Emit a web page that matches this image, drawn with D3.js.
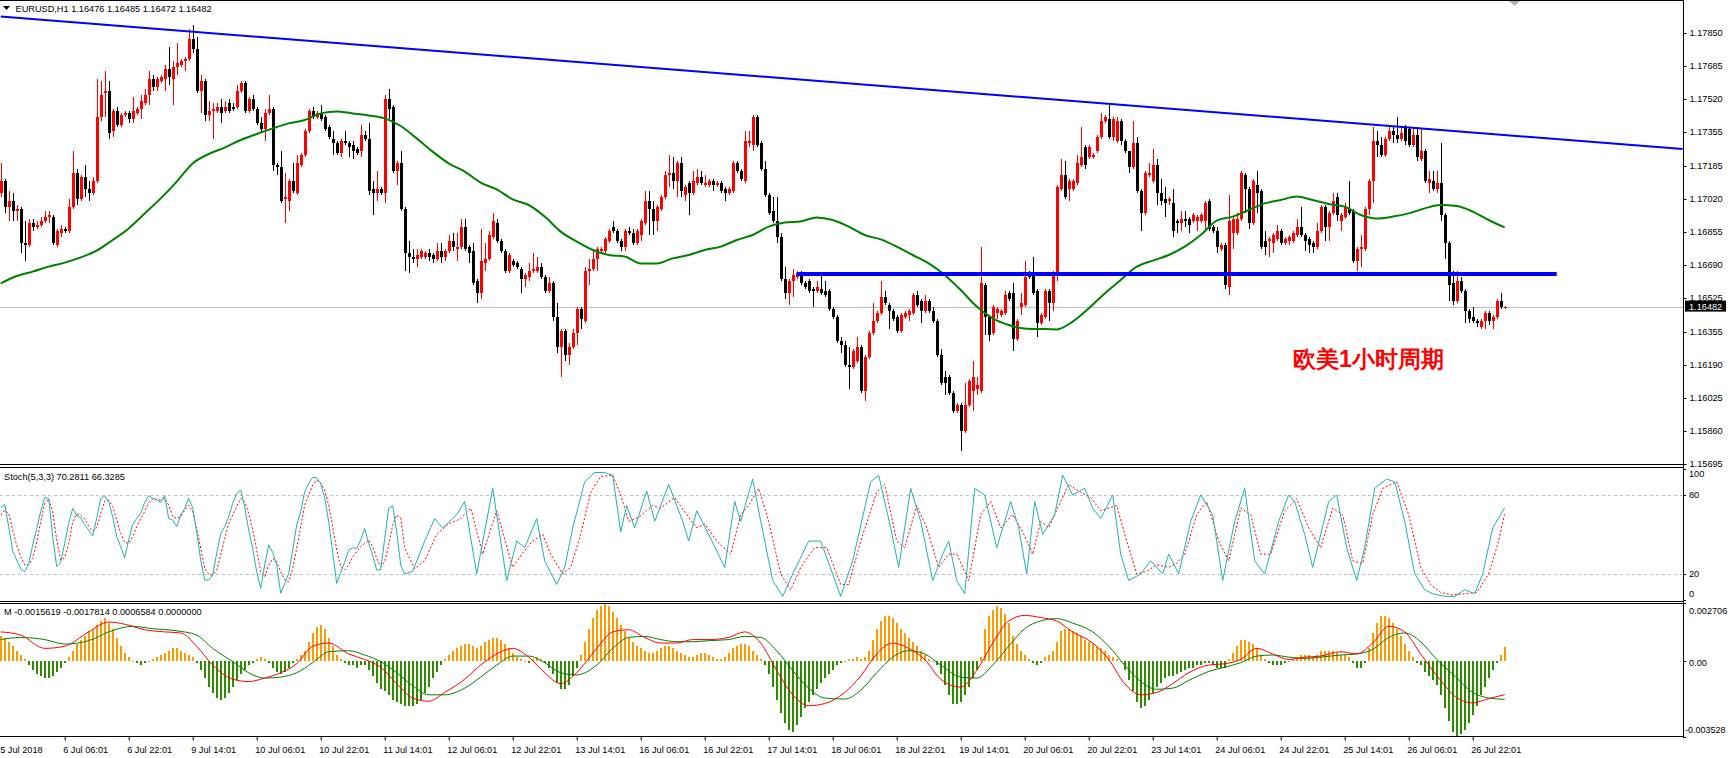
<!DOCTYPE html>
<html><head><meta charset="utf-8">
<script src="https://cdn.jsdelivr.net/npm/d3@7"></script>
<style>
html,body{margin:0;padding:0;background:#fff;overflow:hidden;}
svg{display:block;}
text{font-family:"Liberation Sans",Arial,sans-serif;}
</style></head><body>
<svg id="chart" width="1728" height="758"></svg>
<script>
const headerText = "EURUSD,H1  1.16476 1.16485 1.16472 1.16482";
const stochTitle = "Stoch(5,3,3) 70.2811 66.3285";
const macdTitle = "M -0.0015619 -0.0017814 0.0006584 0.0000000";
const noteText = "欧美1小时周期";

const opens = [
1.1705,1.1711,1.1698,1.1701,1.1696,1.1697,1.1680,1.1679,1.1690,1.1688,
1.1689,1.1691,1.1693,1.1693,1.1679,1.1685,1.1687,1.1686,1.1698,1.1715,
1.1702,1.1713,1.1707,1.1705,1.1711,1.1743,1.1755,1.1756,1.1736,1.1746,
1.1739,1.1744,1.1745,1.1742,1.1745,1.1747,1.1750,1.1754,1.1762,1.1758,
1.1761,1.1762,1.1767,1.1762,1.1768,1.1769,1.1771,1.1772,1.1782,1.1777,
1.1756,1.1761,1.1744,1.1746,1.1746,1.1748,1.1746,1.1750,1.1748,1.1748,
1.1756,1.1760,1.1746,1.1752,1.1747,1.1740,1.1737,1.1745,1.1747,1.1719,
1.1718,1.1702,1.1701,1.1711,1.1705,1.1719,1.1724,1.1736,1.1746,1.1743,
1.1745,1.1743,1.1738,1.1732,1.1730,1.1725,1.1731,1.1730,1.1729,1.1727,
1.1726,1.1734,1.1732,1.1707,1.1705,1.1707,1.1705,1.1752,1.1748,1.1716,
1.1720,1.1697,1.1675,1.1673,1.1672,1.1673,1.1673,1.1675,1.1674,1.1672,
1.1676,1.1673,1.1676,1.1681,1.1677,1.1678,1.1688,1.1678,1.1676,1.1661,
1.1655,1.1670,1.1672,1.1683,1.1690,1.1681,1.1676,1.1666,1.1671,1.1670,
1.1667,1.1662,1.1663,1.1666,1.1666,1.1668,1.1663,1.1656,1.1660,1.1643,
1.1628,1.1636,1.1624,1.1628,1.1635,1.1647,1.1641,1.1666,1.1667,1.1672,
1.1676,1.1676,1.1681,1.1688,1.1686,1.1681,1.1678,1.1686,1.1685,1.1680,
1.1684,1.1690,1.1701,1.1697,1.1691,1.1697,1.1703,1.1714,1.1715,1.1711,
1.1720,1.1704,1.1710,1.1705,1.1710,1.1713,1.1709,1.1709,1.1711,1.1709,
1.1710,1.1707,1.1705,1.1706,1.1720,1.1716,1.1711,1.1730,1.1729,1.1743,
1.1730,1.1717,1.1704,1.1696,1.1691,1.1683,1.1662,1.1655,1.1661,1.1663,
1.1665,1.1660,1.1661,1.1657,1.1656,1.1657,1.1656,1.1656,1.1647,1.1643,
1.1631,1.1629,1.1619,1.1618,1.1621,1.1628,1.1606,1.1623,1.1635,1.1641,
1.1645,1.1653,1.1649,1.1646,1.1643,1.1636,1.1643,1.1644,1.1645,1.1654,
1.1651,1.1646,1.1651,1.1646,1.1641,1.1624,1.1613,1.1613,1.1605,1.1596,
1.1599,1.1586,1.1599,1.1606,1.1607,1.1606,1.1659,1.1643,1.1635,1.1645,
1.1644,1.1645,1.1655,1.1655,1.1632,1.1648,1.1649,1.1665,1.1665,1.1656,
1.1640,1.1643,1.1656,1.1650,1.1665,1.1707,1.1714,1.1707,1.1707,1.1710,
1.1719,1.1728,1.1723,1.1723,1.1726,1.1733,1.1741,1.1742,1.1733,1.1731,
1.1741,1.1731,1.1726,1.1718,1.1730,1.1706,1.1695,1.1714,1.1711,1.1719,
1.1705,1.1702,1.1701,1.1700,1.1691,1.1690,1.1692,1.1692,1.1691,1.1691,
1.1691,1.1691,1.1701,1.1688,1.1686,1.1677,1.1679,1.1658,1.1685,1.1685,
1.1692,1.1714,1.1707,1.1690,1.1709,1.1706,1.1681,1.1681,1.1680,1.1682,
1.1686,1.1680,1.1681,1.1681,1.1684,1.1688,1.1684,1.1682,1.1680,1.1678,
1.1686,1.1698,1.1688,1.1695,1.1703,1.1691,1.1693,1.1697,1.1696,1.1671,
1.1677,1.1677,1.1697,1.1711,1.1731,1.1729,1.1724,1.1732,1.1736,1.1734,
1.1732,1.1738,1.1737,1.1729,1.1734,1.1722,1.1726,1.1710,1.1711,1.1707,
1.1710,1.1694,1.1680,1.1660,1.1651,1.1661,1.1656,1.1646,1.1643,1.1641,
1.1638,1.1641,1.1645,1.1641,1.1643,1.1651,1.16476];
const highs = [
1.1720,1.1712,1.1706,1.1705,1.1699,1.1698,1.1691,1.1692,1.1692,1.1691,
1.1693,1.1696,1.1696,1.1694,1.1687,1.1689,1.1688,1.1702,1.1726,1.1717,
1.1714,1.1719,1.1711,1.1713,1.1762,1.1761,1.1766,1.1761,1.1747,1.1748,
1.1745,1.1746,1.1746,1.1753,1.1748,1.1754,1.1757,1.1766,1.1764,1.1763,
1.1764,1.1769,1.1778,1.1771,1.1780,1.1772,1.1773,1.1787,1.1789,1.1783,
1.1764,1.1762,1.1751,1.1750,1.1750,1.1752,1.1751,1.1752,1.1750,1.1759,
1.1761,1.1761,1.1753,1.1754,1.1748,1.1743,1.1747,1.1754,1.1748,1.1720,
1.1726,1.1715,1.1712,1.1720,1.1724,1.1725,1.1737,1.1747,1.1748,1.1746,
1.1749,1.1744,1.1739,1.1736,1.1731,1.1732,1.1736,1.1731,1.1731,1.1728,
1.1739,1.1736,1.1740,1.1711,1.1716,1.1708,1.1754,1.1757,1.1749,1.1721,
1.1726,1.1698,1.1681,1.1677,1.1677,1.1677,1.1676,1.1677,1.1675,1.1680,
1.1680,1.1677,1.1684,1.1685,1.1685,1.1692,1.1692,1.1679,1.1680,1.1662,
1.1687,1.1680,1.1686,1.1695,1.1692,1.1682,1.1677,1.1675,1.1672,1.1671,
1.1668,1.1665,1.1670,1.1675,1.1673,1.1670,1.1664,1.1663,1.1661,1.1650,
1.1637,1.1637,1.1630,1.1637,1.1648,1.1648,1.1668,1.1672,1.1677,1.1678,
1.1678,1.1683,1.1687,1.1691,1.1687,1.1682,1.1687,1.1688,1.1687,1.1687,
1.1692,1.1706,1.1706,1.1701,1.1699,1.1704,1.1716,1.1724,1.1723,1.1721,
1.1723,1.1709,1.1711,1.1716,1.1717,1.1716,1.1714,1.1712,1.1712,1.1711,
1.1711,1.1708,1.1708,1.1721,1.1721,1.1717,1.1736,1.1736,1.1744,1.1744,
1.1731,1.1721,1.1705,1.1703,1.1703,1.1685,1.1668,1.1662,1.1667,1.1666,
1.1666,1.1661,1.1662,1.1658,1.1661,1.1665,1.1661,1.1657,1.1648,1.1644,
1.1633,1.1631,1.1628,1.1627,1.1633,1.1629,1.1624,1.1636,1.1650,1.1646,
1.1661,1.1656,1.1650,1.1647,1.1644,1.1645,1.1646,1.1647,1.1655,1.1656,
1.1652,1.1654,1.1652,1.1648,1.1642,1.1627,1.1616,1.1614,1.1606,1.1600,
1.1600,1.1610,1.1612,1.1621,1.1613,1.1678,1.1660,1.1644,1.1649,1.1648,
1.1647,1.1656,1.1656,1.1660,1.1642,1.1655,1.1671,1.1666,1.1673,1.1657,
1.1645,1.1657,1.1657,1.1666,1.1709,1.1722,1.1721,1.1712,1.1712,1.1724,
1.1738,1.1729,1.1729,1.1725,1.1734,1.1745,1.1744,1.1750,1.1743,1.1743,
1.1742,1.1732,1.1726,1.1741,1.1733,1.1707,1.1716,1.1720,1.1727,1.1722,
1.1712,1.1708,1.1703,1.1707,1.1692,1.1696,1.1696,1.1693,1.1695,1.1694,
1.1695,1.1701,1.1702,1.1689,1.1688,1.1680,1.1680,1.1704,1.1693,1.1695,
1.1716,1.1715,1.1708,1.1712,1.1716,1.1707,1.1686,1.1683,1.1685,1.1689,
1.1687,1.1683,1.1684,1.1686,1.1692,1.1698,1.1685,1.1683,1.1681,1.1690,
1.1699,1.1699,1.1696,1.1705,1.1705,1.1695,1.1700,1.1711,1.1697,1.1678,
1.1684,1.1698,1.1712,1.1738,1.1736,1.1733,1.1733,1.1738,1.1738,1.1743,
1.1738,1.1739,1.1738,1.1738,1.1738,1.1737,1.1727,1.1716,1.1716,1.1716,
1.1730,1.1695,1.1681,1.1666,1.1666,1.1663,1.1657,1.1647,1.1648,1.1642,
1.1642,1.1646,1.1646,1.1644,1.1652,1.1655,1.16485];
const lows = [
1.1703,1.1695,1.1691,1.1691,1.1691,1.1675,1.1671,1.1678,1.1686,1.1687,
1.1688,1.1690,1.1690,1.1679,1.1678,1.1683,1.1685,1.1685,1.1697,1.1699,
1.1701,1.1703,1.1701,1.1704,1.1710,1.1741,1.1743,1.1732,1.1733,1.1738,
1.1738,1.1743,1.1740,1.1740,1.1744,1.1742,1.1749,1.1749,1.1756,1.1756,
1.1760,1.1756,1.1759,1.1749,1.1764,1.1768,1.1766,1.1771,1.1775,1.1755,
1.1745,1.1741,1.1741,1.1732,1.1745,1.1740,1.1745,1.1745,1.1746,1.1747,
1.1755,1.1745,1.1745,1.1746,1.1739,1.1735,1.1731,1.1744,1.1716,1.1714,
1.1700,1.1690,1.1696,1.1705,1.1704,1.1718,1.1723,1.1735,1.1742,1.1742,
1.1741,1.1736,1.1732,1.1724,1.1724,1.1723,1.1729,1.1723,1.1722,1.1724,
1.1723,1.1731,1.1704,1.1694,1.1701,1.1704,1.1700,1.1742,1.1715,1.1709,
1.1696,1.1666,1.1665,1.1670,1.1668,1.1672,1.1672,1.1671,1.1670,1.1671,
1.1670,1.1671,1.1675,1.1676,1.1671,1.1677,1.1676,1.1670,1.1659,1.1650,
1.1652,1.1666,1.1671,1.1682,1.1680,1.1675,1.1665,1.1665,1.1668,1.1667,
1.1655,1.1658,1.1661,1.1665,1.1665,1.1662,1.1655,1.1655,1.1641,1.1625,
1.1613,1.1621,1.1619,1.1627,1.1629,1.1637,1.1640,1.1659,1.1666,1.1666,
1.1675,1.1675,1.1680,1.1685,1.1680,1.1676,1.1676,1.1684,1.1679,1.1679,
1.1681,1.1689,1.1684,1.1684,1.1686,1.1696,1.1702,1.1708,1.1707,1.1703,
1.1703,1.1701,1.1694,1.1704,1.1709,1.1709,1.1708,1.1708,1.1706,1.1708,
1.1705,1.1701,1.1704,1.1705,1.1715,1.1711,1.1710,1.1728,1.1726,1.1728,
1.1716,1.1703,1.1694,1.1690,1.1680,1.1661,1.1652,1.1649,1.1653,1.1662,
1.1659,1.1657,1.1655,1.1648,1.1655,1.1654,1.1653,1.1646,1.1642,1.1630,
1.1625,1.1618,1.1607,1.1617,1.1620,1.1605,1.1601,1.1622,1.1634,1.1640,
1.1644,1.1649,1.1637,1.1641,1.1635,1.1635,1.1642,1.1641,1.1644,1.1648,
1.1640,1.1645,1.1645,1.1640,1.1623,1.1609,1.1604,1.1604,1.1595,1.1595,
1.1576,1.1585,1.1598,1.1596,1.1604,1.1605,1.1634,1.1631,1.1634,1.1642,
1.1643,1.1644,1.1651,1.1626,1.1631,1.1644,1.1648,1.1662,1.1654,1.1633,
1.1639,1.1642,1.1641,1.1646,1.1661,1.1706,1.1702,1.1701,1.1706,1.1709,
1.1718,1.1717,1.1722,1.1722,1.1725,1.1732,1.1740,1.1732,1.1731,1.1730,
1.1729,1.1725,1.1715,1.1717,1.1705,1.1686,1.1694,1.1713,1.1710,1.1699,
1.1699,1.1693,1.1699,1.1683,1.1685,1.1686,1.1688,1.1685,1.1690,1.1686,
1.1690,1.1686,1.1686,1.1685,1.1675,1.1676,1.1657,1.1654,1.1677,1.1684,
1.1691,1.1695,1.1687,1.1689,1.1695,1.1677,1.1674,1.1673,1.1675,1.1681,
1.1679,1.1679,1.1679,1.1680,1.1683,1.1683,1.1676,1.1675,1.1675,1.1677,
1.1685,1.1681,1.1681,1.1694,1.1691,1.1686,1.1692,1.1694,1.1670,1.1666,
1.1668,1.1676,1.1694,1.1700,1.1723,1.1723,1.1723,1.1731,1.1730,1.1730,
1.1731,1.1729,1.1728,1.1728,1.1721,1.1721,1.1710,1.1705,1.1706,1.1705,
1.1691,1.1672,1.1651,1.1649,1.1650,1.1655,1.1640,1.1640,1.1640,1.1638,
1.1637,1.1637,1.1639,1.1637,1.1642,1.1647,1.16472];
const closes = [
1.1711,1.1698,1.1701,1.1696,1.1697,1.1680,1.1679,1.1690,1.1688,1.1689,
1.1691,1.1693,1.1694,1.1680,1.1686,1.1687,1.1686,1.1698,1.1715,1.1702,
1.1713,1.1707,1.1705,1.1711,1.1743,1.1754,1.1756,1.1735,1.1746,1.1739,
1.1744,1.1745,1.1742,1.1746,1.1747,1.1751,1.1754,1.1762,1.1758,1.1762,
1.1763,1.1767,1.1763,1.1768,1.1770,1.1771,1.1772,1.1782,1.1777,1.1756,
1.1761,1.1744,1.1746,1.1747,1.1748,1.1745,1.1748,1.1746,1.1747,1.1756,
1.1760,1.1746,1.1752,1.1747,1.1740,1.1737,1.1745,1.1747,1.1719,1.1718,
1.1701,1.1703,1.1711,1.1706,1.1720,1.1724,1.1736,1.1746,1.1743,1.1745,
1.1742,1.1737,1.1733,1.1730,1.1725,1.1731,1.1730,1.1728,1.1726,1.1725,
1.1734,1.1732,1.1706,1.1705,1.1707,1.1705,1.1752,1.1747,1.1716,1.1720,
1.1697,1.1675,1.1673,1.1672,1.1674,1.1676,1.1675,1.1673,1.1672,1.1676,
1.1673,1.1676,1.1681,1.1678,1.1678,1.1688,1.1677,1.1675,1.1660,1.1655,
1.1671,1.1672,1.1684,1.1691,1.1681,1.1676,1.1666,1.1674,1.1669,1.1668,
1.1662,1.1664,1.1666,1.1667,1.1668,1.1663,1.1656,1.1660,1.1643,1.1628,
1.1636,1.1624,1.1628,1.1635,1.1647,1.1642,1.1666,1.1667,1.1672,1.1677,
1.1677,1.1682,1.1686,1.1686,1.1681,1.1678,1.1686,1.1685,1.1680,1.1686,
1.1691,1.1701,1.1697,1.1691,1.1698,1.1703,1.1714,1.1715,1.1711,1.1720,
1.1706,1.1708,1.1705,1.1711,1.1713,1.1710,1.1710,1.1711,1.1709,1.1710,
1.1706,1.1705,1.1707,1.1720,1.1716,1.1712,1.1731,1.1731,1.1743,1.1729,
1.1717,1.1704,1.1695,1.1691,1.1683,1.1662,1.1655,1.1661,1.1664,1.1665,
1.1660,1.1658,1.1656,1.1656,1.1658,1.1655,1.1654,1.1647,1.1643,1.1631,
1.1629,1.1619,1.1618,1.1626,1.1628,1.1606,1.1623,1.1635,1.1641,1.1645,
1.1653,1.1650,1.1646,1.1642,1.1636,1.1644,1.1645,1.1646,1.1654,1.1649,
1.1646,1.1651,1.1646,1.1641,1.1624,1.1610,1.1610,1.1605,1.1596,1.1599,
1.1586,1.1599,1.1611,1.1613,1.1609,1.1660,1.1643,1.1634,1.1648,1.1647,
1.1646,1.1654,1.1652,1.1632,1.1641,1.1650,1.1663,1.1663,1.1655,1.1640,
1.1644,1.1656,1.1650,1.1665,1.1708,1.1714,1.1703,1.1711,1.1711,1.1720,
1.1723,1.1719,1.1728,1.1724,1.1733,1.1741,1.1743,1.1733,1.1742,1.1741,
1.1731,1.1726,1.1718,1.1730,1.1706,1.1695,1.1715,1.1715,1.1719,1.1705,
1.1701,1.1700,1.1702,1.1686,1.1690,1.1692,1.1691,1.1689,1.1694,1.1693,
1.1694,1.1700,1.1687,1.1686,1.1678,1.1679,1.1659,1.1691,1.1692,1.1692,
1.1715,1.1707,1.1690,1.1711,1.1705,1.1678,1.1678,1.1682,1.1684,1.1686,
1.1680,1.1682,1.1683,1.1685,1.1688,1.1684,1.1681,1.1679,1.1678,1.1686,
1.1698,1.1688,1.1695,1.1701,1.1694,1.1694,1.1698,1.1695,1.1671,1.1677,
1.1678,1.1697,1.1711,1.1731,1.1729,1.1724,1.1732,1.1736,1.1734,1.1732,
1.1735,1.1731,1.1729,1.1734,1.1723,1.1726,1.1711,1.1712,1.1707,1.1710,
1.1694,1.1680,1.1659,1.1651,1.1661,1.1656,1.1646,1.1642,1.1641,1.1640,
1.1641,1.1645,1.1641,1.1643,1.1651,1.1648,1.16482];

const maBars = [0,4,8,12,16,20,24,28,32,36,40,44,48,52,56,60,64,68,72,76,80,84,88,92,96,100,104,108,112,116,120,124,128,132,136,140,144,148,152,156,160,164,168,172,176,180,184,188,192,196,200,204,208,212,216,220,224,228,232,236,240,244,248,252,256,260,264,268,272,276,280,284,288,292,296,300,304,308,312,316,320,324,328,332,336,340,344,348,352,356,360,364,368,372,376];
const maValues = [1.16598,1.16635,1.16657,1.16682,1.16702,1.16728,1.16762,1.16815,1.16873,1.16948,1.17023,1.17107,1.17198,1.17245,1.17277,1.17315,1.17345,1.17373,1.17398,1.17415,1.17448,1.17458,1.17448,1.17438,1.17423,1.17385,1.17323,1.17257,1.17198,1.17157,1.17102,1.17068,1.17018,1.16990,1.16932,1.16857,1.16807,1.16765,1.16740,1.16732,1.16698,1.16698,1.16723,1.16740,1.16765,1.16782,1.16815,1.16840,1.16882,1.16902,1.16908,1.16928,1.16915,1.16882,1.16840,1.16818,1.16782,1.16740,1.16698,1.16640,1.16565,1.16482,1.16423,1.16390,1.16373,1.16370,1.16368,1.16407,1.16473,1.16548,1.16615,1.16682,1.16712,1.16740,1.16782,1.16840,1.16912,1.16932,1.16965,1.16998,1.17015,1.17032,1.17015,1.16995,1.16982,1.16940,1.16923,1.16932,1.16948,1.16973,1.16990,1.16985,1.16957,1.16915,1.16878];

const trendBars = [0, 420.5];
const trendPrices = [1.17932, 1.17270];
const supportBars = [199, 389];
const supportPrice = 1.16645;
const currentPrice = 1.16482;

const priceTicks = [1.17850,1.17685,1.17520,1.17355,1.17185,1.17020,1.16855,1.16690,1.16525,1.16355,1.16190,1.16025,1.15860,1.15695];
const stochTicks = [100,80,20,0];
const stochLevels = [80,20];
const macdTickValues = [0.002706, 0, -0.003528];
const macdTickLabels = ["0.002706","0.00","-0.003528"];
const timeLabels = ["5 Jul 2018","6 Jul 06:01","6 Jul 22:01","9 Jul 14:01","10 Jul 06:01","10 Jul 22:01","11 Jul 14:01","12 Jul 06:01","12 Jul 22:01","13 Jul 14:01","16 Jul 06:01","16 Jul 22:01","17 Jul 14:01","18 Jul 06:01","18 Jul 22:01","19 Jul 14:01","20 Jul 06:01","20 Jul 22:01","23 Jul 14:01","24 Jul 06:01","24 Jul 22:01","25 Jul 14:01","26 Jul 06:01","26 Jul 22:01"];
const timeLabelBars = [0,16,32,48,64,80,96,112,128,144,160,176,192,208,224,240,256,272,288,304,320,336,352,368];

// Stochastic: bar-by-bar for the first 101 bars, then the turning points
const stochMainHead = [70.3,72.8,55.9,37.4,30.6,23.7,21.7,28,42,54.6,
67.3,77.9,77.4,48.3,25.5,28.8,43.2,58.4,69.8,64.2,
62.7,57.6,53.3,49,62.2,77.4,79.2,74.9,63.5,48.3,
40.7,32.3,45.8,57.6,62.2,66,74.4,79.4,77.4,76.4,
74.4,79.4,62.2,60.9,55.9,64.7,69.8,77.4,70.3,52.1,
30.6,15.4,15.4,19.2,35.6,50.8,55.9,63.5,73.6,81.2,
83.7,71.1,53.3,39.4,21.7,9,26.8,42,36.4,26.8,
5.3,12.8,20.4,38.2,57.1,67.3,82.5,88.8,93.3,93.1,
88.8,77.9,59.7,36.4,12.8,21.2,28.8,38.2,39.9,39.4,
45.8,54.6,43.2,33.9,23,23,47,69.8,71.8,52.1,26.8];
const stochSignalHead = [64.7,68.3,66,53.3,42,33.1,26.8,26.8,31.8,44.5,
59.7,73.6,76.9,67.3,45.8,30.6,32.3,43.2,59.7,65.5,
64.7,61.7,56.4,52.6,55.1,66,75.4,76.1,71.1,60.9,
50.8,44,43.2,48.3,55.9,62.2,67.3,74.4,76.9,76.6,
76.1,77.4,72.3,63.5,62.2,63.5,68.5,72.3,67.3,54.6,
39.4,24.2,19.7,19.2,23,34.4,47,58.4,64.7,71.1,
77.4,74.9,66,53.3,38.2,21.7,17.9,26.8,31.8,29.3,
21.7,15.4,14.1,24.2,39.4,55.9,72.3,79.9,87.5,91.3,
88.8,83.7,72.3,55.9,38.2,25.5,23,26.8,33.1,36.9,
40.7,43.2,45.8,40.7,31.8,25.5,29.3,42,57.1,64.7,62.7];
const stochMainTailBars = [101,103,106,108.5,110.5,114,116,119,123,126.5,129,131,134,136,139,141,143,146,148.5,151,153,155,156.5,158.5,161.5,163.5,167,170.5,172,174,177,181,183.5,185,188,190,193,195.5,198,202,205,208,210,213,217.5,219.5,222.5,224.5,227.5,230,233,235.5,237,239,241,243.5,246,249,251,252.5,254.5,256.5,258.5,260.5,263.5,265.5,268,271,273,275,278,280,282,285,287.5,290.5,292,294.5,297.5,300,303,305.5,308.5,311,313.5,316,319.5,322,323.5,326,328,332,334,336.5,339,341,343.5,346.5,348.5,351,353.5,356,358,361,363.5,366,368.5,370.5,373,376];
const stochMainTail = [20,22,45,62,55,65,75,20,85,15,45,40,62,30,12,25,55,90,97,97,95,52,72,55,83,60,88,60,45,68,50,25,75,60,92,60,15,3,20,45,45,20,3,30,90,95,55,25,85,60,15,35,45,15,5,85,80,40,60,75,55,20,75,50,65,95,80,85,70,62,80,35,15,20,30,20,35,20,60,80,65,15,60,85,30,20,60,80,75,50,25,75,80,40,15,40,85,92,90,60,20,8,5,3,3,8,5,20,55,70.2811];
const stochSignalTailBars = [101,103.5,106,109,112,115,117.5,120.5,124,128,131,133,135.5,137.5,140.5,142.5,145,147.5,150,153,155,157,159.5,163,165,168.5,171.5,174,176,179,182.5,185,187,189.5,192,195,197.5,200,203.5,206.5,210,212,215,219,221,224,226,229,231.5,234.5,237,239,242,245,247.5,250,253,255.5,258,260,262,265,267,270,272.5,275,279,281.5,284,286.5,289,292,294,296,299,301.5,304.5,307,310,312.5,315,317.5,321,324,327,330,333,335.5,338,340.5,343,345.5,349,352,355,357.5,360,363,366,369,372,374.5,376];
const stochSignalTail = [40,24,30,50,58,62,70,35,68,25,38,45,50,35,20,25,50,82,94,95,80,60,63,72,70,78,65,55,58,45,35,65,72,85,60,20,8,25,40,40,12,12,45,82,88,45,40,72,55,25,35,35,15,65,75,55,65,52,35,60,55,75,88,82,78,68,72,45,20,22,27,25,28,35,65,75,45,30,70,65,35,35,68,77,55,40,70,65,30,28,65,85,90,65,25,12,6,4,5,6,20,45,66.3285];

// MACD histogram (one value per bar)
const macdHist = [
0.0012,0.0011,0.0009,0.0007,0.0005,0.0003,0.0001,-0.0002,-0.0004,-0.0006,
-0.0007,-0.0008,-0.0008,-0.0007,-0.0005,-0.0003,-0.0001,0.0002,0.0005,0.0008,
0.0010,0.0012,0.0014,0.0015,0.0017,0.0019,0.0020,0.0018,0.0015,0.0011,
0.0007,0.0004,0.0002,0,-0.0001,-0.0002,-0.0001,0,0.0001,0.0002,
0.0003,0.0004,0.0005,0.0006,0.0006,0.0005,0.0004,0.0003,0.0002,-0.0001,
-0.0004,-0.0008,-0.0012,-0.0015,-0.0017,-0.0018,-0.0017,-0.0015,-0.0012,-0.0009,
-0.0006,-0.0004,-0.0002,-0.0001,0.0001,0.0002,0.0001,-0.0001,-0.0003,-0.0005,
-0.0006,-0.0005,-0.0003,-0.0001,0.0001,0.0003,0.0005,0.0009,0.0013,0.0016,
0.0017,0.0015,0.0011,0.0007,0.0003,0.0001,-0.0001,-0.0002,-0.0002,-0.0003,
-0.0002,-0.0002,-0.0004,-0.0007,-0.0010,-0.0013,-0.0014,-0.0016,-0.0018,-0.0019,
-0.0020,-0.0021,-0.0021,-0.0021,-0.0020,-0.0018,-0.0015,-0.0012,-0.0008,-0.0005,
-0.0002,0.0001,0.0003,0.0005,0.0006,0.0007,0.0008,0.0008,0.0007,0.0006,
0.0007,0.0009,0.0010,0.0011,0.0011,0.0010,0.0008,0.0006,0.0004,0.0002,
0.0001,0,-0.0001,0.0001,0.0002,0.0001,-0.0001,-0.0003,-0.0006,-0.0010,
-0.0013,-0.0013,-0.0011,-0.0007,-0.0003,0.0003,0.0009,0.0015,0.0020,0.0024,
0.0026,0.0027,0.0026,0.0023,0.0020,0.0017,0.0014,0.0011,0.0009,0.0007,
0.0006,0.0005,0.0004,0.0004,0.0005,0.0006,0.0007,0.0007,0.0006,0.0005,
0.0004,0.0003,0.0002,0.0002,0.0003,0.0004,0.0004,0.0003,0.0002,0.0001,
0.0001,0.0002,0.0004,0.0006,0.0007,0.0008,0.0008,0.0007,0.0005,0.0003,
0.0001,-0.0002,-0.0006,-0.0012,-0.0018,-0.0024,-0.0029,-0.0032,-0.0033,-0.0030,
-0.0026,-0.0022,-0.0019,-0.0016,-0.0013,-0.0010,-0.0008,-0.0006,-0.0004,-0.0002,
-0.0001,0,0.0001,0.0001,0.0002,0.0001,0.0002,0.0005,0.0010,0.0015,
0.0019,0.0021,0.0021,0.0020,0.0018,0.0015,0.0013,0.0011,0.0009,0.0007,
0.0005,0.0003,0.0001,0,-0.0002,-0.0006,-0.0011,-0.0016,-0.0020,-0.0020,
-0.0019,-0.0016,-0.0012,-0.0008,-0.0004,0.0002,0.0015,0.0021,0.0024,0.0026,
0.0025,0.0022,0.0018,0.0012,0.0008,0.0005,0.0003,0.0001,-0.0001,-0.0002,
-0.0001,0.0002,0.0003,0.0005,0.0009,0.0014,0.0015,0.0015,0.0014,0.0013,
0.0012,0.0010,0.0009,0.0008,0.0007,0.0006,0.0005,0.0003,0.0002,0.0001,
0,-0.0004,-0.0009,-0.0014,-0.0019,-0.0022,-0.0021,-0.0018,-0.0015,-0.0012,
-0.0010,-0.0008,-0.0007,-0.0007,-0.0006,-0.0005,-0.0004,-0.0003,-0.0003,-0.0002,
-0.0002,-0.0001,-0.0001,-0.0002,-0.0003,-0.0003,-0.0003,0.0001,0.0004,0.0007,
0.0010,0.0010,0.0009,0.0008,0.0006,0.0003,0.0001,-0.0001,-0.0002,-0.0002,
-0.0002,-0.0001,0,0.0001,0.0002,0.0003,0.0003,0.0003,0.0002,0.0003,
0.0005,0.0005,0.0005,0.0005,0.0004,0.0003,0.0003,0.0002,-0.0001,-0.0003,
-0.0003,-0.0001,0.0006,0.0013,0.0018,0.0021,0.0021,0.0020,0.0018,0.0015,
0.0012,0.0008,0.0005,0.0002,-0.0001,-0.0002,-0.0005,-0.0007,-0.0009,-0.0011,
-0.0016,-0.0022,-0.0028,-0.0033,-0.0035,-0.0034,-0.0032,-0.0029,-0.0025,-0.0021,
-0.0016,-0.0012,-0.0008,-0.0004,-0.0001,0.0003,0.0006584];
// MACD main (red) and signal (green) lines, read at turning points
const macdMainBars = [0,5,11,16,22,27,31,36,41,45,49,53,58,62,66,70,74,78,82,87,91,95,99,103,107,111,116,120,124,128,132,136,140,144,149,153,157,161,165,169,173,177,182,186,190,194,198,202,206,211,215,219,223,227,231,235,240,244,248,252,256,260,264,268,273,277,281,285,289,293,297,302,306,310,314,318,322,326,330,335,339,343,347,351,355,360,364,368,372,376];
const macdMain = [0.00137,0.00122,0.0006,0.0007,0.00137,0.00183,0.00173,0.00147,0.00137,0.00132,0.0007,-0.00018,-0.00084,-0.00095,-0.00079,-0.00054,-0.00012,0.0007,0.00085,0.00034,0.00008,-0.00028,-0.00105,-0.00172,-0.00187,-0.00146,-0.00084,-0.00018,0.00034,0.0006,0.00019,-0.00054,-0.00105,-0.00054,0.0006,0.00137,0.00147,0.00111,0.00085,0.00085,0.00101,0.00101,0.00111,0.00137,0.00085,-0.00043,-0.00157,-0.00208,-0.00198,-0.00146,-0.00069,0.00034,0.00085,0.0006,0.00008,-0.00084,-0.00121,-0.00043,0.00085,0.00188,0.00214,0.00204,0.00188,0.00137,0.00085,0.00008,-0.00105,-0.00157,-0.00146,-0.00105,-0.00054,-0.00018,-0.00012,0.00008,0.0006,0.00034,0.00008,0.00019,0.00024,0.00044,0.00034,0.00085,0.00163,0.00137,0.00034,-0.0009,-0.0017,-0.00195,-0.00175,-0.0015619];
const macdSignalBars = [0,5,11,16,22,27,33,38,44,49,53,58,62,66,70,74,78,82,87,91,95,99,103,107,111,116,120,124,128,132,136,140,144,149,153,157,161,165,169,173,177,182,186,190,194,198,202,206,211,215,219,223,227,231,235,240,244,248,252,256,260,264,268,273,277,281,285,289,293,297,302,306,310,314,318,322,326,330,335,339,343,347,351,355,359,363,368,372,376];
const macdSignal = [0.00101,0.00111,0.00101,0.0008,0.00096,0.00137,0.00163,0.00152,0.00142,0.00122,0.0006,-0.00002,-0.00054,-0.00079,-0.00074,-0.00054,-0.00007,0.00044,0.00049,0.00029,-0.00002,-0.00054,-0.00115,-0.00157,-0.00157,-0.00126,-0.00074,-0.00018,0.00024,0.00024,-0.00007,-0.00054,-0.00064,-0.00018,0.0006,0.00111,0.00116,0.00101,0.00091,0.00091,0.00096,0.00101,0.00116,0.00111,0.00049,-0.00043,-0.00126,-0.00172,-0.00177,-0.00136,-0.00054,0.00019,0.00049,0.00034,-0.00018,-0.00074,-0.00079,-0.00018,0.0007,0.00152,0.00188,0.00199,0.00178,0.00137,0.0007,-0.00018,-0.00095,-0.00131,-0.00126,-0.0009,-0.00048,-0.00028,-0.00007,0.00024,0.00029,0.00019,0.00013,0.00019,0.00029,0.00034,0.00055,0.00111,0.00132,0.00091,0.00008,-0.0006,-0.00146,-0.00172,-0.0017814];

// ---------- drawing ----------
const svg = d3.select("#chart");
const plotRight = 1683;
const x = d3.scaleLinear().domain([-0.175, 420.575]).range([0, plotRight]);
const yPrice = d3.scaleLinear().domain([1.15695, 1.18015]).range([464, 0]);
const yStoch = d3.scaleLinear().domain([0, 100]).range([600.3, 468.6]);
const yMacd = d3.scaleLinear().domain([-0.003528, 0.002706]).range([736.7, 603.3]);
const FONT = 9.2;

const defs = svg.append("defs");
function clip(id, y0, y1){ defs.append("clipPath").attr("id", id).append("rect").attr("x",0).attr("y",y0).attr("width",plotRight).attr("height",y1-y0); }
clip("cMain", 0, 464); clip("cStoch", 468, 601); clip("cMacd", 604, 736);

// main panel
const gMain = svg.append("g").attr("clip-path","url(#cMain)");
gMain.append("line").attr("x1",0).attr("x2",plotRight)
  .attr("y1",Math.round(yPrice(currentPrice))+0.5).attr("y2",Math.round(yPrice(currentPrice))+0.5)
  .attr("stroke","#c0c0c0").attr("stroke-width",1);

const bars = d3.range(closes.length);
const cx = i => Math.round(x(i));
const candles = gMain.append("g").attr("shape-rendering","crispEdges");
candles.selectAll("line.wick").data(bars).join("line").attr("class","wick")
  .attr("x1", i=>cx(i)+0.5).attr("x2", i=>cx(i)+0.5)
  .attr("y1", i=>yPrice(highs[i])).attr("y2", i=>yPrice(lows[i]))
  .attr("stroke", i=> closes[i]>opens[i] ? "#ff0000" : "#000000").attr("stroke-width",1);
candles.selectAll("rect.body").data(bars).join("rect").attr("class","body")
  .attr("x", i=>cx(i)-1).attr("width",3)
  .attr("y", i=>Math.min(yPrice(opens[i]), yPrice(closes[i])))
  .attr("height", i=>Math.max(1, Math.abs(yPrice(opens[i])-yPrice(closes[i]))))
  .attr("fill", i=> closes[i]>opens[i] ? "#ff0000" : "#000000");

gMain.append("path").datum(maBars)
  .attr("d", d3.line().x(b=>x(b)).y((b,k)=>yPrice(maValues[k])).curve(d3.curveMonotoneX))
  .attr("fill","none").attr("stroke","#008000").attr("stroke-width",2);

gMain.append("line").attr("x1",x(trendBars[0])).attr("x2",x(trendBars[1]))
  .attr("y1",yPrice(trendPrices[0])).attr("y2",yPrice(trendPrices[1]))
  .attr("stroke","#0000ff").attr("stroke-width",2);
gMain.append("line").attr("x1",x(supportBars[0])).attr("x2",x(supportBars[1]))
  .attr("y1",yPrice(supportPrice)).attr("y2",yPrice(supportPrice))
  .attr("stroke","#0000ff").attr("stroke-width",4);

gMain.append("text").attr("x",1293).attr("y",367).text(noteText)
  .attr("font-family","'Noto Sans CJK SC',sans-serif").attr("font-weight","bold")
  .attr("font-size",23).attr("fill","#ff0000");

// shift marker
svg.append("path").attr("d","M1509,1 L1520,1 L1514.5,6 Z").attr("fill","#b0b0b0");

// header
svg.append("path").attr("d","M3,6 L10,6 L6.5,10 Z").attr("fill","#000");
svg.append("text").attr("x",15.5).attr("y",12).attr("font-size",FONT).text(headerText);

// stoch panel
const gSt = svg.append("g").attr("clip-path","url(#cStoch)");
stochLevels.forEach(v=>{
  gSt.append("line").attr("x1",0).attr("x2",plotRight).attr("y1",Math.round(yStoch(v))+0.5).attr("y2",Math.round(yStoch(v))+0.5)
    .attr("stroke","#c0c0c0").attr("stroke-dasharray","3,3");
});
const headBars = d3.range(stochMainHead.length);
const sigPts = headBars.map(i=>[i, stochSignalHead[i]]).concat(stochSignalTailBars.map((b,k)=>[b, stochSignalTail[k]]));
const mainPts = headBars.map(i=>[i, stochMainHead[i]]).concat(stochMainTailBars.map((b,k)=>[b, stochMainTail[k]]));
const stLine = d3.line().x(d=>x(d[0])).y(d=>yStoch(d[1]));
gSt.append("path").datum(sigPts).attr("d", stLine)
  .attr("fill","none").attr("stroke","#ff0000").attr("stroke-width",1).attr("stroke-dasharray","2,2");
gSt.append("path").datum(mainPts).attr("d", stLine)
  .attr("fill","none").attr("stroke","#20b2aa").attr("stroke-width",1);
svg.append("text").attr("x",4).attr("y",480).attr("font-size",FONT).text(stochTitle);

// macd panel
const gM = svg.append("g").attr("clip-path","url(#cMacd)");
gM.append("g").attr("shape-rendering","crispEdges").selectAll("rect").data(macdHist).join("rect")
  .attr("x",(d,i)=>cx(i)-1).attr("width",2)
  .attr("y",d=>Math.min(yMacd(0),yMacd(d))).attr("height",d=>Math.max(1,Math.abs(yMacd(d)-yMacd(0))))
  .attr("fill",d=> d>=0 ? "#ff9900" : "#2e8b00");
const mLine = d3.line().x(d=>x(d[0])).y(d=>yMacd(d[1])).curve(d3.curveMonotoneX);
gM.append("path").datum(macdSignalBars.map((b,k)=>[b, macdSignal[k]])).attr("d", mLine)
  .attr("fill","none").attr("stroke","#008000").attr("stroke-width",1);
gM.append("path").datum(macdMainBars.map((b,k)=>[b, macdMain[k]])).attr("d", mLine)
  .attr("fill","none").attr("stroke","#ff0000").attr("stroke-width",1);
svg.append("text").attr("x",4).attr("y",615).attr("font-size",FONT).text(macdTitle);

// frame
const frame = svg.append("g").attr("stroke","#000").attr("stroke-width",1).attr("shape-rendering","crispEdges");
[0.5, 464.5, 467.5, 601.5, 603.5, 736.5].forEach(yy=>{
  frame.append("line").attr("x1",0).attr("x2",plotRight+0.5).attr("y1",yy).attr("y2",yy);
});
frame.append("line").attr("x1",plotRight+0.5).attr("x2",plotRight+0.5).attr("y1",0).attr("y2",737);

// price axis
const axP = svg.append("g").attr("transform",`translate(${plotRight+0.5},0)`)
  .call(d3.axisRight(yPrice).tickValues(priceTicks).tickSize(3).tickPadding(3).tickFormat(d3.format(".5f")));
axP.select(".domain").remove();
axP.selectAll("text").attr("font-size",FONT).attr("font-family","'Liberation Sans',Arial,sans-serif");
const cy = yPrice(currentPrice);
svg.append("rect").attr("x",plotRight+2).attr("y",cy-6).attr("width",41).attr("height",11).attr("fill","#000");
svg.append("text").attr("x",plotRight+6).attr("y",cy+3.5).attr("font-size",FONT).attr("fill","#fff").text(d3.format(".5f")(currentPrice));

// stoch axis
const stochLabelY = {100:474, 80:495, 20:574, 0:594};
stochTicks.forEach(v=>{
  svg.append("line").attr("x1",plotRight).attr("x2",plotRight+3).attr("y1",Math.round(yStoch(v))+0.5).attr("y2",Math.round(yStoch(v))+0.5).attr("stroke","#000");
  svg.append("text").attr("x",plotRight+6).attr("y",stochLabelY[v]+3.3).attr("font-size",FONT).text(v);
});
// macd axis
const macdLabelY = [611, 663, 730];
macdTickValues.forEach((v,k)=>{
  svg.append("line").attr("x1",plotRight).attr("x2",plotRight+3).attr("y1",Math.round(yMacd(v))+0.5).attr("y2",Math.round(yMacd(v))+0.5).attr("stroke","#000");
  svg.append("text").attr("x", k===2 ? plotRight+2 : plotRight+6).attr("y",macdLabelY[k]+3.3).attr("font-size", k===2 ? 9 : FONT).text(macdTickLabels[k]);
});

// time axis
const axT = svg.append("g").attr("transform","translate(0,736.5)")
  .call(d3.axisBottom(x).tickValues(timeLabelBars).tickSize(4).tickPadding(6).tickFormat((d,k)=>timeLabels[k]));
axT.select(".domain").remove();
axT.selectAll("text").attr("font-size",FONT).attr("text-anchor","start").attr("dx",-2).attr("font-family","'Liberation Sans',Arial,sans-serif");
axT.selectAll(".tick").filter(d=>d===0).select("line").remove();
axT.selectAll(".tick").filter(d=>d===0).select("text").attr("dx",-1);
</script>
</body></html>
